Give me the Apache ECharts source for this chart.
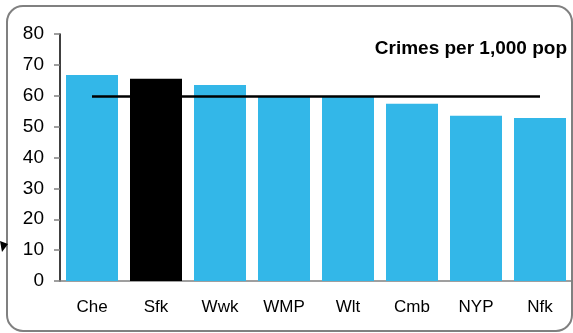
<!DOCTYPE html>
<html><head><meta charset="utf-8">
<script src="https://cdn.jsdelivr.net/npm/echarts@6/dist/echarts.min.js"></script>
<style>html,body{margin:0;padding:0;background:#fff}#c{width:573px;height:333px}</style>
</head><body><div id="c"></div>
<script>
var categories = ['Che','Sfk','Wwk','WMP','Wlt','Cmb','NYP','Nfk'];
var values = [66.7, 65.5, 63.5, 59.8, 59.6, 57.4, 53.5, 52.8];
var highlight = 'Sfk';
var averageValue = 60;
var yTicks = [0,10,20,30,40,50,60,70,80];
var titleText = 'Crimes per 1,000 pop';

var chart = echarts.init(document.getElementById('c'), null, {renderer:'canvas'});
var FONT = 'Liberation Sans, Arial, sans-serif';
chart.setOption({
  animation:false,
  backgroundColor:'#fff',
  title:{text:titleText, right:6, top:39, padding:0, textStyle:{fontFamily:FONT, fontWeight:'bold', fontSize:19, color:'#000'}},
  grid:{left:60, right:1, top:34, bottom:52},
  xAxis:{type:'category', data:categories,
    axisLine:{lineStyle:{color:'#808080', width:1.5}},
    axisTick:{show:false},
    axisLabel:{fontFamily:FONT, fontSize:17, color:'#000', margin:18}},
  yAxis:{type:'value', min:yTicks[0], max:yTicks[yTicks.length-1], interval:10,
    splitLine:{show:false},
    axisLine:{show:true, lineStyle:{color:'#000', width:1.5}},
    axisTick:{show:true, length:6, lineStyle:{color:'#808080', width:1.5}},
    axisLabel:{fontFamily:FONT, fontSize:19, color:'#000', margin:16}},
  series:[{type:'bar', barCategoryGap:'18.75%',
    data:values.map(function(v,i){return {value:v, itemStyle:{color: categories[i]===highlight ? '#000000' : '#33B7E8'}};}),
    markLine:{silent:true, symbol:['none','none'], label:{show:false},
      lineStyle:{color:'#000', width:2.5, type:'solid'},
      data:[[{coord:[categories[0], averageValue]},{coord:[categories[categories.length-1], averageValue]}]]}
  }],
  graphic:[
    {type:'rect', shape:{x:7, y:6, width:565, height:325, r:16}, style:{fill:'none', stroke:'#808080', lineWidth:2}, z:-1},
    {type:'polygon', shape:{points:[[0,241],[8,244],[2,252]]}, style:{fill:'#000'}}
  ]
});
</script></body></html>
